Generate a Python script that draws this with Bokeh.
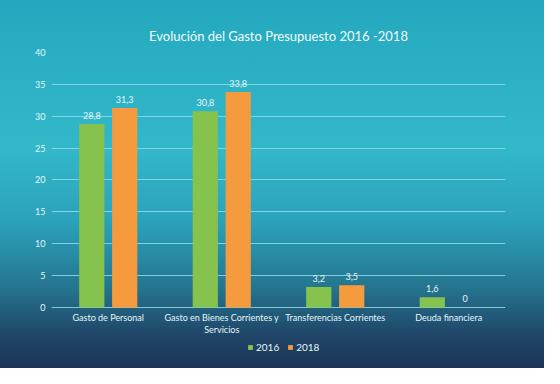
from bokeh.plotting import figure
from bokeh.models import (ColumnDataSource, FactorRange, LabelSet, Legend, LegendItem,
                          FixedTicker, Range1d)
from bokeh.core.properties import value
from bokeh.transform import dodge
from bokeh.embed import file_html
from bokeh.resources import INLINE

categories = ["Gasto de Personal", "Gasto en Bienes Corrientes y\nServicios",
              "Transferencias Corrientes", "Deuda financiera"]
v2016 = [28.8, 30.8, 3.2, 1.6]
v2018 = [31.3, 33.8, 3.5, 0]
years = ["2016", "2018"]
y_ticks = [0, 5, 10, 15, 20, 25, 30, 35, 40]

def fmt(v):
    return ("%g" % v).replace(".", ",")

line1 = [c.split("\n")[0] for c in categories]
line2 = [(c.split("\n") + [""])[1] for c in categories]

src = ColumnDataSource(dict(cat=categories, a=v2016, b=v2018, zero=[0] * len(categories),
                            l1=line1, l2=line2,
                            la=[fmt(v) for v in v2016], lb=[fmt(v) for v in v2018]))

green = "#86c34e"
orange = "#f59b3d"
light = "#e6f6f8"
FONT = "Lato"

# frame runs down to the bottom edge so the category labels and legend sit inside it
p = figure(x_range=FactorRange(*categories), y_range=Range1d(-9.57, 40),
           width=544, height=368, output_backend="svg", toolbar_location=None,
           min_border_left=51, min_border_right=39, min_border_top=52, min_border_bottom=0,
           background_fill_color=None, border_fill_color=None, outline_line_color=None)
p.styles = {"background": "linear-gradient(to bottom, #24a8bf 0%, #33b8ca 40%, #2ba2bb 60%, #25758f 78%, #1f4669 91%, #1c3456 100%)"}

r1 = p.vbar(x=dodge("cat", -0.145, range=p.x_range), top="a", width=0.222, source=src,
            color=green, line_color=None)
r2 = p.vbar(x=dodge("cat", 0.145, range=p.x_range), top="b", width=0.222, source=src,
            color=orange, line_color=None)

for col, lab, off in (("a", "la", -0.145), ("b", "lb", 0.145)):
    p.add_layout(LabelSet(x=dodge("cat", off, range=p.x_range), y=col, text=lab, source=src,
                          y_offset=5, text_align="center", text_baseline="bottom",
                          text_font=value(FONT), text_font_size="9px", text_color=light))

# category labels under the zero line (two lines, each centred)
for col, yoff in (("l1", -5), ("l2", -17)):
    p.add_layout(LabelSet(x="cat", y="zero", text=col, source=src, y_offset=yoff,
                          text_align="center", text_baseline="top",
                          text_font=value(FONT), text_font_size="9px", text_color=light))

p.title.text = "Evolución del Gasto Presupuesto 2016 -2018"
p.title.align = "center"
p.title.text_font = FONT
p.title.text_font_size = "13px"
p.title.text_font_style = "normal"
p.title.text_color = "#f2fbfc"
p.title.standoff = 17

p.yaxis.ticker = FixedTicker(ticks=y_ticks)
p.yaxis.axis_line_color = None
p.yaxis.major_tick_line_color = None
p.yaxis.minor_tick_line_color = None
p.yaxis.major_tick_out = 0
p.yaxis.major_label_text_color = light
p.yaxis.major_label_text_font = FONT
p.yaxis.major_label_text_font_size = "9px"
p.yaxis.major_label_standoff = 6

p.xaxis.visible = False
p.xgrid.grid_line_color = None
p.ygrid.grid_line_color = "#8fdbe6"
p.ygrid.grid_line_width = 1
p.ygrid.grid_line_alpha = 0.85

legend = Legend(items=[LegendItem(label=years[0], renderers=[r1]),
                       LegendItem(label=years[1], renderers=[r2])],
                orientation="horizontal", location=(196, 15),
                background_fill_alpha=0, border_line_color=None,
                label_text_color=light, label_text_font=FONT, label_text_font_size="10px",
                glyph_width=6, glyph_height=6, label_height=12, label_standoff=3,
                spacing=8, padding=0, margin=0)
p.add_layout(legend)

open("out.html", "w").write(file_html(p, INLINE))
